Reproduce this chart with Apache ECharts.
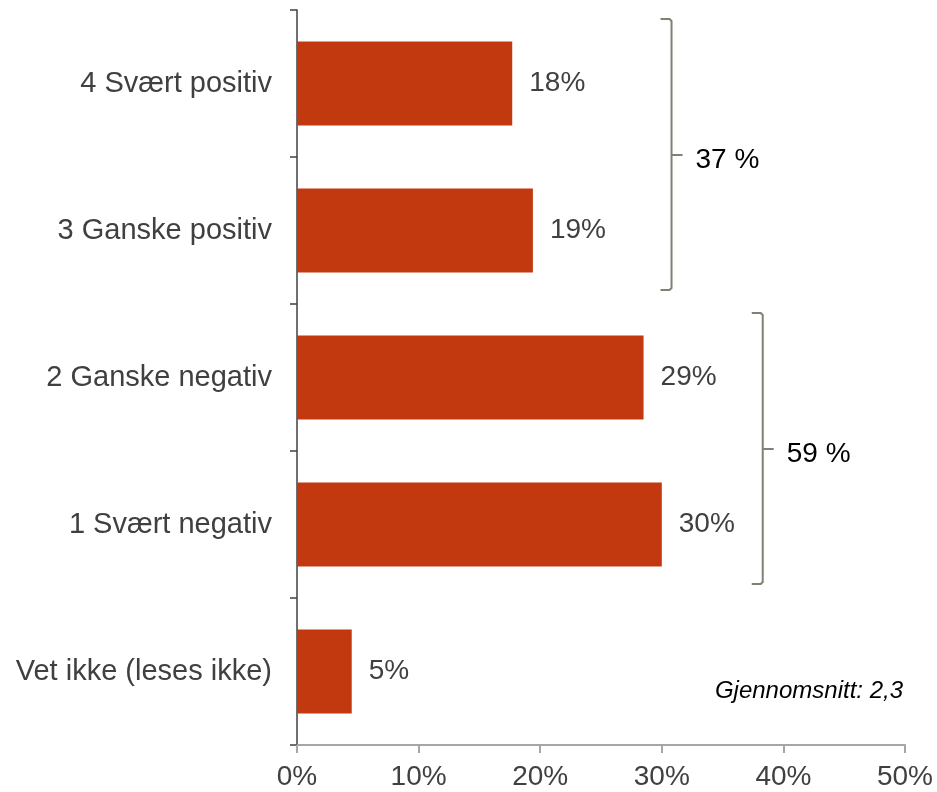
<!DOCTYPE html>
<html><head><meta charset="utf-8">
<script src="https://cdn.jsdelivr.net/npm/echarts@6/dist/echarts.min.js"></script>
<style>html,body{margin:0;padding:0;background:#fff}#c{width:937px;height:792px}</style>
</head><body><div id="c"></div>
<script>
const categories = ['4 Svært positiv', '3 Ganske positiv', '2 Ganske negativ', '1 Svært negativ', 'Vet ikke (leses ikke)'];
const values = [17.7, 19.4, 28.5, 30.0, 4.5];
const valueLabels = ['18%', '19%', '29%', '30%', '5%'];
const xTicks = [0, 10, 20, 30, 40, 50];
// brackets: [x position (%), first category index, last category index, label]
const brackets = [
  [30.8, 0, 1, '37 %'],
  [38.3, 2, 3, '59 %']
];
const noteText = 'Gjennomsnitt: 2,3';

const chart = echarts.init(document.getElementById('c'));
const font = 'Liberation Sans, Arial, sans-serif';
chart.setOption({
  animation: false,
  grid: { left: 297, right: 32, top: 10, bottom: 47 },
  xAxis: {
    type: 'value', min: xTicks[0], max: xTicks[xTicks.length - 1], interval: xTicks[1] - xTicks[0],
    axisLine: { show: true, lineStyle: { color: '#a6a6a6', width: 2 } },
    axisTick: { show: true, length: 8, lineStyle: { color: '#a6a6a6', width: 2 } },
    splitLine: { show: false },
    axisLabel: { formatter: v => v + '%', fontSize: 28, color: '#404040', fontFamily: font, margin: 18 }
  },
  yAxis: {
    type: 'category', data: categories, inverse: true,
    axisLine: { show: true, lineStyle: { color: '#404040', width: 1.5 } },
    axisTick: { show: true, length: 7, lineStyle: { color: '#404040', width: 1.5 } },
    axisLabel: { fontSize: 29, color: '#404040', fontFamily: font, margin: 25, padding: [4, 0, 0, 0] }
  },
  series: [{
    type: 'bar', data: values, barWidth: 84,
    itemStyle: { color: '#C3390F' },
    label: { show: true, position: 'right', distance: 17, fontSize: 28, color: '#404040', fontFamily: font,
      padding: [5, 0, 0, 0],
      formatter: p => valueLabels[p.dataIndex] }
  }, {
    type: 'custom',
    data: brackets,
    encode: { x: 0, y: 1 },
    renderItem: function (params, api) {
      const x = api.value(0);
      const i0 = api.value(1), i1 = api.value(2);
      const band = api.size([0, 1])[1];
      const p0 = api.coord([x, i0]);
      const p1 = api.coord([x, i1]);
      const top = p0[1] - band / 2 + 9;
      const bot = p1[1] + band / 2 - 14;
      const mid = (p0[1] + p1[1]) / 2 - 2;
      const bx = p0[0];
      const lbl = brackets[params.dataIndex][3];
      return {
        type: 'group',
        children: [{
          type: 'polyline',
          shape: { points: [[bx - 11, top], [bx - 2, top], [bx, top + 2], [bx, bot - 2], [bx - 2, bot], [bx - 11, bot]] },
          style: { stroke: '#7f8272', lineWidth: 2, fill: null }
        }, {
          type: 'polyline',
          shape: { points: [[bx, mid], [bx + 11, mid]] },
          style: { stroke: '#7f8272', lineWidth: 2, fill: null }
        }, {
          type: 'text',
          style: { text: lbl, x: bx + 24, y: mid + 5, fontSize: 28, fill: '#000', fontFamily: font, verticalAlign: 'middle', align: 'left' }
        }]
      };
    },
    z: 5
  }],
  graphic: [{
    type: 'text', right: 34, top: 679,
    style: { text: noteText, fontSize: 24, fontStyle: 'italic', fill: '#000', fontFamily: font }
  }]
});
</script></body></html>
